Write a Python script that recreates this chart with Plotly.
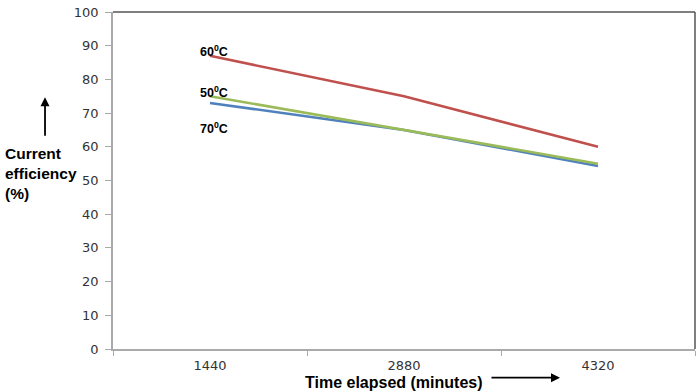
import plotly.graph_objects as go

categories = ["1440", "2880", "4320"]
eff_60 = [87, 75, 60]
eff_70 = [73, 65, 54.3]
eff_50 = [75, 65, 55]
y_ticks = [0, 10, 20, 30, 40, 50, 60, 70, 80, 90, 100]

fig = go.Figure()
fig.add_trace(go.Scatter(x=categories, y=eff_60, mode="lines", line=dict(color="#C0504D", width=2.5), name="60"))
fig.add_trace(go.Scatter(x=categories, y=eff_70, mode="lines", line=dict(color="#4F81BD", width=2.5), name="70"))
fig.add_trace(go.Scatter(x=categories, y=eff_50, mode="lines", line=dict(color="#9BBB59", width=2.5), name="50"))

lab_font = dict(family="Liberation Sans, Arial", size=12.5, color="black")
title_font = dict(family="Liberation Sans, Arial", size=15.5, color="black")

annotations = [
    dict(x=0.146, y=0.885, xref="paper", yref="paper", text="<b>60<sup>0</sup>C</b>", showarrow=False,
         xanchor="left", yanchor="middle", font=lab_font),
    dict(x=0.146, y=0.762, xref="paper", yref="paper", text="<b>50<sup>0</sup>C</b>", showarrow=False,
         xanchor="left", yanchor="middle", font=lab_font),
    dict(x=0.146, y=0.656, xref="paper", yref="paper", text="<b>70<sup>0</sup>C</b>", showarrow=False,
         xanchor="left", yanchor="middle", font=lab_font),
    dict(x=-0.1889, y=0.52, xref="paper", yref="paper", text="<b>Current<br>efficiency<br>(%)</b>", showarrow=False,
         xanchor="left", yanchor="middle", align="left", font=title_font),
    dict(x=0.483, y=-0.099, xref="paper", yref="paper", text="<b>Time elapsed (minutes)</b>", showarrow=False,
         xanchor="center", yanchor="middle", font=dict(family="Liberation Sans, Arial", size=16, color="black")),
    dict(x=-0.1168, y=0.747, xref="paper", yref="paper", text="", showarrow=True, ax=0, ay=40,
         arrowhead=2, arrowwidth=1.8, arrowsize=1, arrowcolor="black"),
    dict(x=0.768, y=-0.085, xref="paper", yref="paper", text="", showarrow=True, ax=-70, ay=0,
         arrowhead=2, arrowwidth=1.8, arrowsize=1, arrowcolor="black"),
]

fig.update_layout(
    width=700, height=391,
    margin=dict(l=113, r=5, t=9, b=42),
    paper_bgcolor="white", plot_bgcolor="white",
    showlegend=False,
    annotations=annotations,
    shapes=[
        dict(type="line", xref="paper", yref="paper", x0=0, x1=1, y0=1, y1=1, line=dict(color="#555", width=1.5)),
        dict(type="line", xref="paper", yref="paper", x0=1, x1=1, y0=0, y1=1, line=dict(color="#555", width=1.5)),
    ],
)
fig.update_xaxes(type="category", tickson="boundaries", showgrid=False, showline=True, linecolor="#aaa", linewidth=1.5,
                 ticks="outside", ticklen=5, tickcolor="#aaa", tickfont=dict(family="DejaVu Sans", size=13, color="#333"),
                 ticklabelstandoff=4, range=[-0.5, 2.5])
fig.update_yaxes(range=[0, 100], tickvals=y_ticks, showgrid=False, showline=True, linecolor="#aaa", linewidth=1.5,
                 ticks="outside", ticklen=6, tickcolor="#aaa", tickfont=dict(family="DejaVu Sans", size=13, color="#333"),
                 ticklabelstandoff=4, zeroline=False)

fig.write_html("out.html", config={"displayModeBar": False},
               post_script="document.body.style.margin='0';document.body.style.padding='0';")
